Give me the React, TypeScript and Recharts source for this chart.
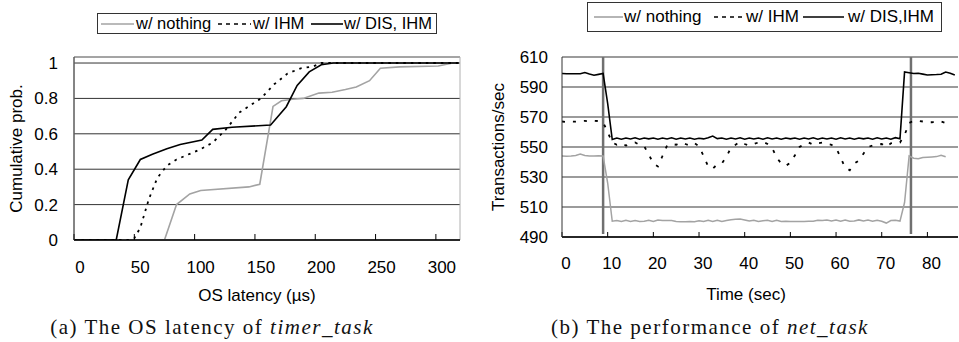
import React from 'react';
import { LineChart, Line, XAxis, YAxis, CartesianGrid, ReferenceLine, ReferenceArea, Label } from 'recharts';

const SANS = '"Liberation Sans", Arial, sans-serif';
const SERIF = '"Liberation Serif", "Times New Roman", serif';

// (a) OS latency CDF
const latencyTicks = [0, 50, 100, 150, 200, 250, 300];
const probTicks = [0, 0.2, 0.4, 0.6, 0.8, 1];

const nothingLatency = [0, 75, 85, 96, 105, 145, 154, 165, 172, 181, 190, 203, 214, 225, 234, 245, 254, 270, 302, 314];
const nothingProb = [0, 0, 0.2, 0.26, 0.28, 0.3, 0.315, 0.755, 0.787, 0.795, 0.8, 0.83, 0.835, 0.85, 0.865, 0.9, 0.97, 0.978, 0.983, 1];

const ihmLatency = [0, 45, 50, 55, 62, 69, 77, 85, 104, 115, 126, 137, 155, 166, 177, 188, 198, 205, 319];
const ihmProb = [0, 0, 0.01, 0.07, 0.23, 0.35, 0.42, 0.455, 0.51, 0.55, 0.625, 0.72, 0.8, 0.88, 0.94, 0.97, 0.98, 1, 1];

const disLatency = [0, 35, 45, 55, 65, 77, 88, 106, 115, 131, 163, 176, 185, 195, 205, 215, 319];
const disProb = [0, 0, 0.34, 0.455, 0.485, 0.515, 0.54, 0.565, 0.625, 0.637, 0.65, 0.753, 0.873, 0.95, 0.99, 1, 1];

// (b) net_task throughput per second
const timeTicks = [0, 10, 20, 30, 40, 50, 60, 70, 80];
const tpsTicks = [490, 510, 530, 550, 570, 590, 610];
const eventTimes = [9, 76.4];

const seconds = [
  0, 1, 2, 3, 4, 5, 6, 7, 8, 9, 10, 11, 12, 13, 14, 15, 16, 17, 18, 19, 20, 21,
  22, 23, 24, 25, 26, 27, 28, 29, 30, 31, 32, 33, 34, 35, 36, 37, 38, 39, 40, 41,
  42, 43, 44, 45, 46, 47, 48, 49, 50, 51, 52, 53, 54, 55, 56, 57, 58, 59, 60, 61,
  62, 63, 64, 65, 66, 67, 68, 69, 70, 71, 72, 73, 74, 75, 76, 77, 78, 79, 80, 81,
  82, 83, 84, 85, 86,
];

const nothingTps = [
  544, 543.8, 544, 544.4, 545.3, 544.4, 544, 544, 544.1, 544, 526, 500.5,
  501, 500.3, 501.2, 500.4, 501, 500.3, 500.5, 501.2, 500.4, 501.3,
  501, 501, 501, 500.4, 500.2, 500.2, 500.3, 500.2, 500.9, 500.3,
  501.2, 500.4, 501.2, 500.4, 501, 501.5, 501.8, 502, 501.4, 500.6,
  501.2, 500.4, 500.8, 501.2, 500.4, 501.2, 500.4, 500.5, 500.4, 500.4,
  500.4, 500.4, 500.5, 500.5, 501.2, 501, 501.3, 500.6, 501.3, 500.5,
  501.3, 500.5, 500.6, 501.4, 500.6, 501.3, 500.5, 501.2, 500.5, 499.3,
  501, 501.2, 500.6, 513, 544, 542.5, 542.2, 543, 543.2, 543.4, 543.6, 544.5, 543.5,
];

const ihmTps = [
  567, 566.6, 567, 566.9, 567.2, 567.4, 567, 567.5, 567.3, 566.5, 560, 553,
  551.5, 552.5, 551, 552, 553, 551.5, 550.5, 545, 539, 537,
  544, 551, 552, 551.5, 553, 552, 551, 552.5, 550.5, 544,
  537, 535.5, 538.5, 539, 543.5, 549.5, 551.5, 553.5, 552, 551,
  552, 553, 553.5, 552, 549.5, 543, 539, 537.5, 539.5, 544.5,
  550, 552, 553, 551.5, 552.5, 553, 552, 551.5, 549.5, 543,
  536, 534.5, 539, 541, 545.5, 550, 551, 551.5, 552, 550,
  552.5, 553, 553, 558, 566, 567.5, 567.5, 567, 566.5, 566.5,
  567.3, 567, 566, 565.3,
];

const disTps = [
  599, 598.8, 598.8, 598.8, 598.8, 599.6, 598.6, 597.8, 598.4, 599, 579, 555,
  556, 555.2, 556, 555.3, 556.1, 555.2, 556, 555.4, 556, 555.2,
  556, 555.3, 556.1, 555.2, 556, 555.3, 556, 555.2, 555.8, 555.4,
  556.2, 557.3, 555.6, 556, 555.2, 556, 555.3, 556.1, 555.2, 556,
  555.3, 556, 555.2, 556.1, 555.3, 556, 555.2, 556, 555.4, 556,
  555.2, 556, 555.3, 556.1, 555.2, 556, 555.3, 556, 555.2, 556.1,
  555.3, 556, 555.2, 556, 555.4, 556, 555.2, 556.1, 555.3, 556,
  555.2, 556.2, 555.5, 600, 599.5, 599, 599.2, 598.6, 598, 598.2, 598.3, 598.5, 600, 599.2, 598,
];

const cdf = (xs: number[], ps: number[]) => xs.map((x, i) => ({ x, p: ps[i] }));
const nothingCdf = cdf(nothingLatency, nothingProb);
const ihmCdf = cdf(ihmLatency, ihmProb);
const disCdf = cdf(disLatency, disProb);

const netData = seconds.map((t, i) => ({
  t,
  nothing: nothingTps[i],
  ihm: ihmTps[i],
  dis: disTps[i],
}));

const GRAY = '#a3a3a3';
const tickStyle = { fill: '#000', fontSize: 17, fontFamily: SANS };

type LegendItem = { label: string; color: string; dash?: string; lineLeft: number; lineWidth: number; textLeft: number };

const LegendBox = ({ left, top, width, height, fontSize, items }: {
  left: number; top: number; width: number; height: number; fontSize: number; items: LegendItem[];
}) => (
  <div style={{ position: 'absolute', left, top, width, height, border: '1px solid #333', boxSizing: 'border-box', fontFamily: SANS, fontSize }}>
    {items.map((it) => (
      <React.Fragment key={it.label}>
        <svg style={{ position: 'absolute', left: it.lineLeft, top: height / 2 - 3, overflow: 'visible' }} width={it.lineWidth} height={4}>
          <line x1={0} x2={it.lineWidth} y1={2} y2={2} stroke={it.color} strokeWidth={1.6} strokeDasharray={it.dash} />
        </svg>
        <span style={{ position: 'absolute', left: it.textLeft, top: 0, lineHeight: `${height - 2}px`, whiteSpace: 'nowrap' }}>{it.label}</span>
      </React.Fragment>
    ))}
  </div>
);

function LatencyChart() {
  return (
    <div style={{ position: 'absolute', left: 0, top: 0 }}>
      <LineChart width={480} height={342} margin={{ top: 57, right: 20, bottom: 0, left: 0 }}>
        <ReferenceArea x1={0} x2={320} y1={0} y2={1.034} fill="none" stroke="#b0b0b0" strokeWidth={1} />
        <CartesianGrid vertical={false} stroke="#333" strokeWidth={1} />
        <XAxis
          dataKey="x"
          type="number"
          domain={[0, 320]}
          allowDataOverflow
          ticks={latencyTicks}
          height={102}
          tickSize={-6}
          tickMargin={27}
          tick={{ ...tickStyle, dx: 6 }}
          axisLine={{ stroke: '#000', strokeWidth: 1.5 }}
          tickLine={{ stroke: '#000' }}
        >
          <Label value="OS latency (µs)" position="insideBottom" offset={41} dx={-10} style={{ fill: '#000', fontSize: 17, fontFamily: SANS }} />
        </XAxis>
        <YAxis
          type="number"
          domain={[0, 1.034]}
          allowDataOverflow
          ticks={probTicks}
          width={74}
          tickSize={0}
          tickMargin={16}
          tick={tickStyle}
          axisLine={{ stroke: '#333' }}
          tickLine={false}
        >
          <Label value="Cumulative prob." angle={-90} position="insideLeft" offset={16} style={{ textAnchor: 'middle', fill: '#000', fontSize: 17, fontFamily: SANS }} />
        </YAxis>
        <Line data={nothingCdf} dataKey="p" type="linear" stroke={GRAY} strokeWidth={1.6} dot={false} isAnimationActive={false} />
        <Line data={ihmCdf} dataKey="p" type="linear" stroke="#000" strokeWidth={1.8} strokeDasharray="2.5 5" dot={false} isAnimationActive={false} />
        <Line data={disCdf} dataKey="p" type="linear" stroke="#000" strokeWidth={1.6} dot={false} isAnimationActive={false} />
      </LineChart>
    </div>
  );
}

function NetChart() {
  return (
    <div style={{ position: 'absolute', left: 480, top: 0 }}>
      <LineChart width={479} height={342} data={netData} margin={{ top: 57, right: 1, bottom: 0, left: 0 }}>
        <CartesianGrid vertical={false} stroke="#7a7a7a" strokeWidth={1.5} />
        <XAxis
          dataKey="t"
          type="number"
          domain={[0, 86.7]}
          allowDataOverflow
          ticks={timeTicks}
          height={105}
          tickSize={-5}
          tickMargin={25}
          tick={{ ...tickStyle, dx: 4 }}
          axisLine={{ stroke: '#000', strokeWidth: 1.5 }}
          tickLine={{ stroke: '#000' }}
        >
          <Label value="Time (sec)" position="insideBottom" offset={42} dx={-14} style={{ fill: '#000', fontSize: 17, fontFamily: SANS }} />
        </XAxis>
        <YAxis
          type="number"
          domain={[490, 610]}
          allowDataOverflow
          ticks={tpsTicks}
          width={82}
          tickSize={0}
          tickMargin={14}
          tick={tickStyle}
          axisLine={{ stroke: '#333' }}
          tickLine={false}
        >
          <Label value="Transactions/sec" angle={-90} position="insideLeft" offset={18} style={{ textAnchor: 'middle', fill: '#000', fontSize: 17, fontFamily: SANS }} />
        </YAxis>
        {eventTimes.map((t) => (
          <ReferenceLine key={t} segment={[{ x: t, y: 492 }, { x: t, y: 610 }]} stroke="#707070" strokeWidth={2.5} />
        ))}
        <Line dataKey="nothing" type="linear" stroke={GRAY} strokeWidth={1.5} dot={false} isAnimationActive={false} />
        <Line dataKey="ihm" type="linear" stroke="#000" strokeWidth={1.8} strokeDasharray="3 8" dot={false} isAnimationActive={false} />
        <Line dataKey="dis" type="linear" stroke="#000" strokeWidth={1.6} dot={false} isAnimationActive={false} />
      </LineChart>
    </div>
  );
}

const captionStyle: React.CSSProperties = {
  position: 'absolute',
  top: 317,
  fontFamily: SERIF,
  fontSize: 21,
  lineHeight: '21px',
  letterSpacing: 1.5,
  whiteSpace: 'nowrap',
  transform: 'translateX(-50%)',
  color: '#111',
};

export default function App() {
  return (
    <div style={{ position: 'absolute', left: 0, top: 0, width: 959, height: 342, background: '#fff', overflow: 'hidden' }}>
      <LatencyChart />
      <NetChart />
      <LegendBox
        left={97}
        top={13}
        width={340}
        height={21}
        fontSize={16.5}
        items={[
          { label: 'w/ nothing', color: GRAY, lineLeft: 3, lineWidth: 33, textLeft: 38 },
          { label: 'w/ IHM', color: '#000', dash: '4 4', lineLeft: 120, lineWidth: 33, textLeft: 155 },
          { label: 'w/ DIS, IHM', color: '#000', lineLeft: 213, lineWidth: 32, textLeft: 246 },
        ]}
      />
      <LegendBox
        left={587}
        top={2}
        width={355}
        height={30}
        fontSize={17}
        items={[
          { label: 'w/ nothing', color: GRAY, lineLeft: 6, lineWidth: 29, textLeft: 36 },
          { label: 'w/ IHM', color: '#000', dash: '4 4', lineLeft: 126, lineWidth: 30, textLeft: 158 },
          { label: 'w/ DIS,IHM', color: '#000', lineLeft: 215, lineWidth: 41, textLeft: 260 },
        ]}
      />
      <div style={{ ...captionStyle, left: 212 }}>
        (a) The OS latency of <i>timer_task</i>
      </div>
      <div style={{ ...captionStyle, left: 710 }}>
        (b) The performance of <i>net_task</i>
      </div>
    </div>
  );
}
